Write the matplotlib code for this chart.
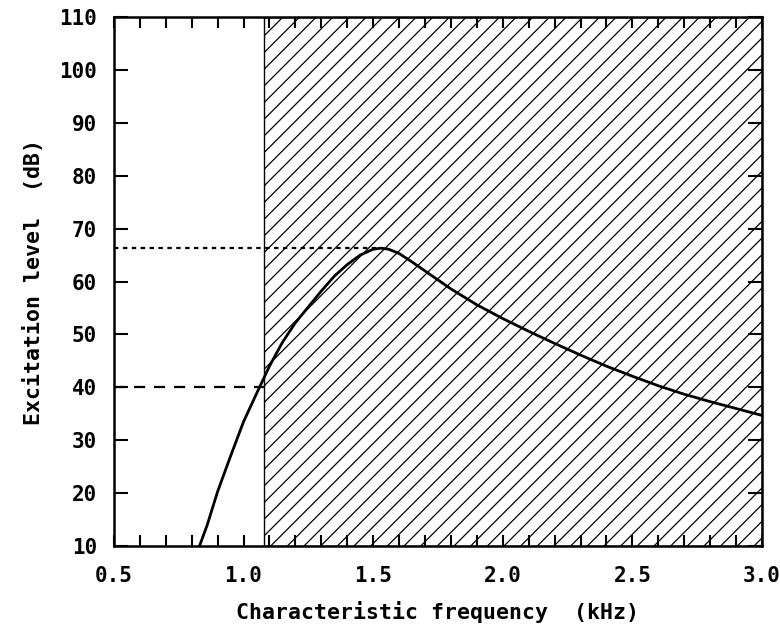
import matplotlib
matplotlib.use('Agg')
import matplotlib.pyplot as plt
import matplotlib.ticker as ticker

# excitation pattern
freq = [0.83, 0.86, 0.90, 0.95, 1.00, 1.05, 1.10, 1.15, 1.20, 1.25, 1.30,
        1.35, 1.40, 1.45, 1.50, 1.53, 1.56, 1.60, 1.65, 1.70, 1.80, 1.90,
        2.00, 2.10, 2.20, 2.30, 2.40, 2.50, 2.60, 2.70, 2.80, 2.90, 3.00]
level = [10.0, 14.0, 20.3, 27.0, 33.5, 38.8, 44.0, 48.5, 52.2, 55.2, 58.2,
         61.0, 63.2, 65.0, 66.1, 66.3, 66.1, 65.3, 63.7, 62.0, 58.6, 55.6,
         53.0, 50.6, 48.3, 46.1, 44.0, 42.1, 40.3, 38.7, 37.3, 36.0, 34.7]

hatch_start = 1.08   # kHz, edge of hatched region
peak_level = 66.3    # dB, dotted line
thresh_level = 40    # dB, dashed line

plt.rcParams['font.family'] = 'DejaVu Sans Mono'
plt.rcParams['font.weight'] = 'bold'
plt.rcParams['axes.labelweight'] = 'bold'
plt.rcParams['hatch.linewidth'] = 0.9

fig = plt.figure(figsize=(7.8, 6.27), dpi=100)
ax = fig.add_axes([0.146, 0.129, 0.831, 0.844])

ax.axvspan(hatch_start, 3.0, facecolor='none', edgecolor='black',
           hatch='//', linewidth=1.0)
ax.plot(freq, level, color='black', lw=2.0)
ax.hlines(peak_level, 0.5, freq[level.index(max(level))], colors='black',
          linestyles=(0, (2, 2)), lw=1.6)
ax.hlines(thresh_level, 0.5, hatch_start, colors='black',
          linestyles=(0, (5, 4)), lw=1.6)

ax.set_xlim(0.5, 3.0)
ax.set_ylim(10, 110)
ax.xaxis.set_major_locator(ticker.MultipleLocator(0.5))
ax.xaxis.set_minor_locator(ticker.MultipleLocator(0.1))
ax.yaxis.set_major_locator(ticker.MultipleLocator(10))
ax.xaxis.set_major_formatter(ticker.FormatStrFormatter('%.1f'))

ax.tick_params(which='both', direction='in', top=True, right=True, width=1.5)
ax.tick_params(axis='x', which='major', length=8, pad=14, labelsize=15)
ax.tick_params(axis='x', which='minor', length=8)
ax.tick_params(axis='y', which='major', length=10, pad=12, labelsize=15)
for s in ax.spines.values():
    s.set_linewidth(1.8)

ax.set_xlabel('Characteristic frequency  (kHz)', fontsize=15.5, labelpad=11)
ax.set_ylabel('Excitation level  (dB)', fontsize=15.5, labelpad=11)

fig.savefig('out.png', dpi=100)
